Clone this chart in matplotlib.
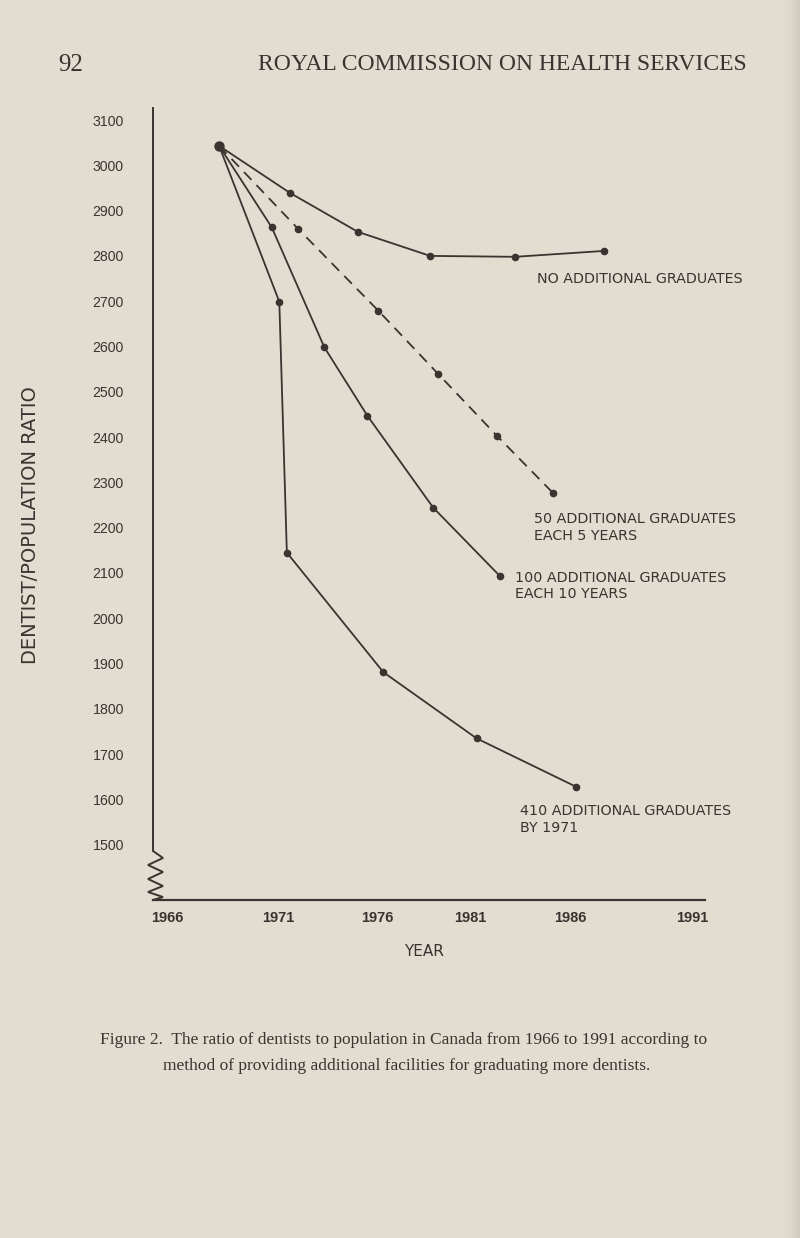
import matplotlib
matplotlib.use("Agg")
import numpy as np
import matplotlib.pyplot as plt
from matplotlib import font_manager
from matplotlib.lines import Line2D
from matplotlib.colors import LinearSegmentedColormap

# ---------------- data ----------------
years_none = [1968.45, 1971.83, 1975.07, 1978.51, 1982.56, 1986.80]
ratio_none = [3043, 2939, 2853, 2800, 2798, 2811]

years_50 = [1968.45, 1972.23, 1976.04, 1978.90, 1981.71, 1984.36]
ratio_50 = [3043, 2859, 2679, 2539, 2402, 2277]

years_100 = [1968.45, 1970.96, 1973.47, 1975.52, 1978.66, 1981.84]
ratio_100 = [3043, 2863, 2598, 2447, 2244, 2093]

years_410 = [1968.45, 1971.32, 1971.68, 1976.28, 1980.72, 1985.47]
ratio_410 = [3043, 2699, 2145, 1881, 1735, 1628]

y_ticks = list(range(1500, 3101, 100))
x_tick_labels = ["1966", "1971", "1976", "1981", "1986", "1991"]
x_tick_pos = [1966.0, 1971.29, 1975.98, 1980.41, 1985.20, 1991.0]

label_none = ["NO ADDITIONAL GRADUATES"]
label_50 = ["50 ADDITIONAL GRADUATES", "EACH 5 YEARS"]
label_100 = ["100 ADDITIONAL GRADUATES", "EACH 10 YEARS"]
label_410 = ["410 ADDITIONAL GRADUATES", "BY 1971"]

# ---------------- style ----------------
PAPER = "#e3ddd1"
INK = "#3a3330"

available = {f.name for f in font_manager.fontManager.ttflist}
narrow = "Liberation Sans Narrow" in available
sans_fp = font_manager.FontProperties(family="DejaVu Sans", stretch="normal",
                                      weight="normal")

W, H = 800, 1238
fig = plt.figure(figsize=(W / 100, H / 100), dpi=100, facecolor=PAPER)

# faint page-edge shadow on the right
shade = fig.add_axes([0.975, 0, 0.025, 1])
shade.axis("off")
grad = np.linspace(0, 1, 50)[None, :] ** 2
shade.imshow(grad, aspect="auto",
             cmap=LinearSegmentedColormap.from_list("edge", [PAPER, "#cfc9bf"]),
             extent=[0, 1, 0, 1])

ax_left, ax_right, ax_top, ax_bottom = 153, 705, 108, 900
ax = fig.add_axes([ax_left / W, 1 - ax_bottom / H,
                   (ax_right - ax_left) / W, (ax_bottom - ax_top) / H])
ax.set_facecolor(PAPER)

ax.set_xlim(1965.30, 1991.61)
ax.set_ylim(1378.1, 3126.5)

for s in ["top", "right", "left"]:
    ax.spines[s].set_visible(False)
ax.spines["bottom"].set_color(INK)
ax.spines["bottom"].set_linewidth(1.6)

# left axis with zig-zag break
fy = lambda py: (ax_bottom - py) / (ax_bottom - ax_top)
fx = lambda px: (px - ax_left) / (ax_right - ax_left)
zz_x = [153, 153, 163, 148, 163, 148, 163, 148, 163, 153]
zz_y = [108, 851, 858, 865, 872, 879, 886, 892, 897, 900]
ax.add_line(Line2D([fx(v) for v in zz_x], [fy(v) for v in zz_y],
                   transform=ax.transAxes, color=INK, lw=1.4,
                   clip_on=False, solid_joinstyle="miter"))

# ticks
ax.set_yticks(y_ticks)
ax.set_yticklabels([str(v) for v in y_ticks])
ax.set_xticks(x_tick_pos)
ax.set_xticklabels(x_tick_labels)
ax.tick_params(axis="y", length=0, pad=21, labelsize=10.2, labelcolor=INK)
ax.tick_params(axis="x", length=0, pad=8, labelcolor=INK)
for t in ax.get_yticklabels():
    t.set_fontfamily("Liberation Sans")
for t in ax.get_xticklabels():
    if narrow:
        t.set_fontfamily("Liberation Sans Narrow")
        t.set_fontsize(11.5)
        t.set_fontweight("bold")
    else:
        t.set_fontfamily("Liberation Sans")
        t.set_fontsize(10.5)
        t.set_fontweight("bold")

# ---------------- series ----------------
lw = 1.3
ax.plot(years_none, ratio_none, color=INK, lw=lw, marker="o", ms=4.5,
        markevery=slice(1, None))
ax.plot(years_50, ratio_50, color=INK, lw=lw, marker="o", ms=4.5,
        dashes=(6, 4), markevery=slice(1, None))
ax.plot(years_100, ratio_100, color=INK, lw=lw, marker="o", ms=4.5,
        markevery=slice(1, None))
ax.plot(years_410, ratio_410, color=INK, lw=lw, marker="o", ms=4.5,
        markevery=slice(1, None))
ax.plot([years_none[0]], [ratio_none[0]], "o", color=INK, ms=6.5)

# ---------------- series labels ----------------
px2pt = 0.72


def put(lines, xs, ys, dx_px, dy_px, step_px=17):
    for i, txt in enumerate(lines):
        ax.annotate(txt, xy=(xs[-1], ys[-1]),
                    xytext=(dx_px * px2pt, -(dy_px + i * step_px) * px2pt),
                    textcoords="offset points", ha="left", va="baseline",
                    color=INK, fontproperties=sans_fp, fontsize=10.3,
                    annotation_clip=False)


put(label_none, years_none, ratio_none, -67, 32)
put(label_50, years_50, ratio_50, -19, 30)
put(label_100, years_100, ratio_100, 15, 6, 16)
put(label_410, years_410, ratio_410, -56, 28, 17)

# ---------------- axis titles ----------------
fig.text(31 / W, 1 - 525 / H, "DENTIST/POPULATION RATIO", rotation=90,
         ha="center", va="center", color=INK, fontproperties=sans_fp,
         fontsize=14)
fig.text(424 / W, 1 - 951 / H, "YEAR", ha="center", va="center",
         color=INK, fontproperties=sans_fp, fontsize=11)

# ---------------- page header and caption ----------------
fig.text(58 / W, 1 - 65 / H, "92", ha="left", va="center", fontsize=18,
         color=INK, family="Liberation Serif")
fig.text(258 / W, 1 - 65 / H, "ROYAL COMMISSION ON HEALTH SERVICES",
         ha="left", va="center", fontsize=17, color=INK,
         family="Liberation Serif")
fig.text(100 / W, 1 - 1040 / H,
         "Figure 2.  The ratio of dentists to population in Canada from 1966 to 1991 according to",
         ha="left", va="center", fontsize=12.5, color=INK,
         family="Liberation Serif")
fig.text(163 / W, 1 - 1066 / H,
         "method of providing additional facilities for graduating more dentists.",
         ha="left", va="center", fontsize=12.5, color=INK,
         family="Liberation Serif")

fig.savefig("out.png", dpi=100, facecolor=PAPER)
